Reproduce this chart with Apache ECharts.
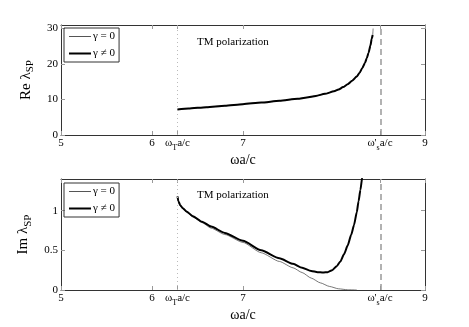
<!DOCTYPE html>
<html><head><meta charset="utf-8">
<script src="https://cdn.jsdelivr.net/npm/echarts@6/dist/echarts.min.js"></script>
<style>html,body{margin:0;padding:0;background:#fff}#c{width:469px;height:327px}</style>
</head><body><div id="c"></div>
<script>
// ---- data ----
var omegaT = 6.28;
var omegaS = 8.505;
var xTicks = [5, 6, omegaT, 7, omegaS, 9];
var reY_ticks = [0, 10, 20, 30];
var imY_ticks = [0, 0.5, 1];

var reX_gammaN = [6.28, 6.4, 6.6, 6.8, 7.0, 7.2, 7.4, 7.6, 7.7, 7.8, 7.9, 8.0, 8.05, 8.1, 8.15, 8.2, 8.25, 8.28, 8.31, 8.34, 8.36, 8.38, 8.4, 8.415, 8.425];
var reY_gammaN = [7.2, 7.45, 7.85, 8.25, 8.7, 9.15, 9.65, 10.2, 10.55, 11.0, 11.6, 12.3, 12.8, 13.5, 14.3, 15.3, 16.5, 17.5, 18.8, 20.3, 21.6, 23.2, 25.2, 27.2, 28.2];
var reX_gamma0 = [6.28, 6.4, 6.6, 6.8, 7.0, 7.2, 7.4, 7.6, 7.7, 7.8, 7.9, 8.0, 8.05, 8.1, 8.15, 8.2, 8.25, 8.28, 8.31, 8.34, 8.36, 8.38, 8.4, 8.415, 8.425, 8.43];
var reY_gamma0 = [7.2, 7.45, 7.85, 8.25, 8.7, 9.15, 9.65, 10.2, 10.55, 11.0, 11.6, 12.3, 12.8, 13.5, 14.3, 15.3, 16.5, 17.5, 18.8, 20.3, 21.6, 23.2, 25.2, 27.2, 28.2, 30.0];

var imX_gammaN = [6.28, 6.29, 6.31, 6.34, 6.38, 6.45, 6.55, 6.65, 6.8, 7.0, 7.2, 7.4, 7.55, 7.65, 7.75, 7.82, 7.88, 7.93, 7.98, 8.03, 8.07, 8.11, 8.15, 8.19, 8.22, 8.25, 8.27, 8.29, 8.31, 8.32];
var imY_gammaN = [1.18, 1.12, 1.07, 1.03, 0.99, 0.93, 0.86, 0.80, 0.72, 0.62, 0.50, 0.40, 0.33, 0.28, 0.24, 0.225, 0.22, 0.225, 0.25, 0.30, 0.36, 0.45, 0.56, 0.70, 0.82, 0.98, 1.12, 1.26, 1.42, 1.50];
var imX_gamma0 = [6.28, 6.29, 6.31, 6.34, 6.38, 6.45, 6.55, 6.65, 6.8, 7.0, 7.2, 7.4, 7.55, 7.65, 7.75, 7.85, 7.95, 8.05, 8.15, 8.25];
var imY_gamma0 = [1.17, 1.11, 1.06, 1.02, 0.98, 0.92, 0.85, 0.78, 0.70, 0.60, 0.47, 0.36, 0.28, 0.22, 0.15, 0.09, 0.045, 0.015, 0.003, 0.0];

var name0 = 'γ = 0', nameN = 'γ ≠ 0';
// ---- chart ----
function zip(xs, ys){ return xs.map(function(x,i){return [x, ys[i]];}); }
var SERIF = '"Liberation Serif","DejaVu Serif",serif';
var rich = {
  m: {fontFamily: SERIF, fontSize: 11, color: '#000', verticalAlign: 'top'},
  s: {fontFamily: SERIF, fontSize: 8, color: '#000', verticalAlign: 'top', padding: [6,0,0,0]}
};
function xLabel(v){
  if (Math.abs(v - omegaT) < 1e-6) return '{m|ω}{s|T}{m|a/c}';
  if (Math.abs(v - omegaS) < 1e-6) return '{m|ω\'}{s|s}{m|a/c}';
  return '{m|' + v + '}';
}
var grids = [
  {left: 61, top: 25, width: 364, height: 110},
  {left: 61, top: 179, width: 364, height: 111}
];
var axisLine = {show: true, onZero: false, lineStyle: {color: '#333', width: 1}};
var tick = function(vals){ return {show: true, inside: true, length: 4, customValues: vals, lineStyle: {color: '#999'}}; };
var xAxes = [], yAxes = [];
[0,1].forEach(function(g){
  xAxes.push({type: 'value', gridIndex: g, min: 5, max: 9, position: 'bottom',
    axisLine: axisLine, axisTick: tick(xTicks), splitLine: {show: false},
    axisLabel: {customValues: xTicks, formatter: xLabel, rich: rich, margin: 3},
    name: 'ωa/c', nameLocation: 'middle', nameGap: 16,
    nameTextStyle: {fontFamily: SERIF, fontSize: 14, color: '#000'}});
  xAxes.push({type: 'value', gridIndex: g, min: 5, max: 9, position: 'top',
    axisLine: axisLine, axisTick: tick(xTicks), splitLine: {show: false}, axisLabel: {show: false}});
});
var yt = [reY_ticks, imY_ticks];
var ymax = [31, 1.4];
var ynames = ['{a|Re λ}{b|SP}', '{a|Im λ}{b|SP}'];
[0,1].forEach(function(g){
  yAxes.push({type: 'value', gridIndex: g, min: 0, max: ymax[g], position: 'left',
    axisLine: axisLine, axisTick: tick(yt[g]), splitLine: {show: false},
    axisLabel: {customValues: yt[g], fontFamily: SERIF, fontSize: 11, color: '#000', margin: 3},
    name: ynames[g], nameLocation: 'middle', nameGap: 16, nameRotate: 90,
    nameTextStyle: {rich: {
      a: {fontFamily: SERIF, fontSize: 15, color: '#000', verticalAlign: 'top'},
      b: {fontFamily: SERIF, fontSize: 11, color: '#000', verticalAlign: 'top', padding: [7,0,0,0]}
    }}});
  yAxes.push({type: 'value', gridIndex: g, min: 0, max: ymax[g], position: 'right',
    axisLine: axisLine, axisTick: tick(yt[g]), splitLine: {show: false}, axisLabel: {show: false}});
});
function vlines(){
  return {silent: true, symbol: 'none', label: {show: false}, animation: false,
    data: [
      {xAxis: omegaT, lineStyle: {color: '#bbb', width: 1, type: [1,3]}},
      {xAxis: omegaS, lineStyle: {color: '#999', width: 1.5, type: [6,4]}}
    ]};
}
function ser(name, data, xi, yi, thick, ml){
  var s = {type: 'line', name: name, data: data, xAxisIndex: xi, yAxisIndex: yi,
    symbol: 'none', showSymbol: false, smooth: 0.2, smoothMonotone: 'x', clip: true,
    lineStyle: {color: thick ? '#000' : '#555', width: thick ? 2 : 0.8},
    itemStyle: {color: thick ? '#000' : '#555'}, z: thick ? 3 : 2};
  if (ml) s.markLine = vlines();
  return s;
}
var legendData = [
  {name: name0, lineStyle: {width: 1, color: '#555'}, itemStyle: {opacity: 0, color: 'rgba(0,0,0,0)', borderWidth: 0}},
  {name: nameN, lineStyle: {width: 2, color: '#000'}, itemStyle: {opacity: 0, color: 'rgba(0,0,0,0)', borderWidth: 0}}
];
var legendBase = {orient: 'vertical', left: 64, borderColor: '#333', borderWidth: 1,
  padding: [3, 4, 3, 4], itemGap: 6, itemWidth: 22, itemHeight: 10,
  itemStyle: {opacity: 0, color: 'rgba(0,0,0,0)', borderWidth: 0},
  textStyle: {fontFamily: SERIF, fontSize: 11, color: '#000', padding: [0,0,0,-3]},
  data: legendData, selectedMode: false};
var opt = {
  animation: false,
  backgroundColor: '#fff',
  grid: grids,
  xAxis: xAxes,
  yAxis: yAxes,
  legend: [
    Object.assign({}, legendBase, {top: 28}),
    Object.assign({}, legendBase, {top: 183})
  ],
  graphic: [
    {type: 'text', left: 197, top: 37, style: {text: 'TM polarization', font: '11px ' + SERIF, fill: '#000'}},
    {type: 'text', left: 197, top: 190, style: {text: 'TM polarization', font: '11px ' + SERIF, fill: '#000'}}
  ],
  series: [
    ser(name0, zip(reX_gamma0, reY_gamma0), 0, 0, false, true),
    ser(nameN, zip(reX_gammaN, reY_gammaN), 0, 0, true, false),
    ser(name0, zip(imX_gamma0, imY_gamma0), 2, 2, false, true),
    ser(nameN, zip(imX_gammaN, imY_gammaN), 2, 2, true, false)
  ]
};
var chart = echarts.init(document.getElementById('c'), null, {renderer: 'canvas'});
chart.setOption(opt);
</script></body></html>
